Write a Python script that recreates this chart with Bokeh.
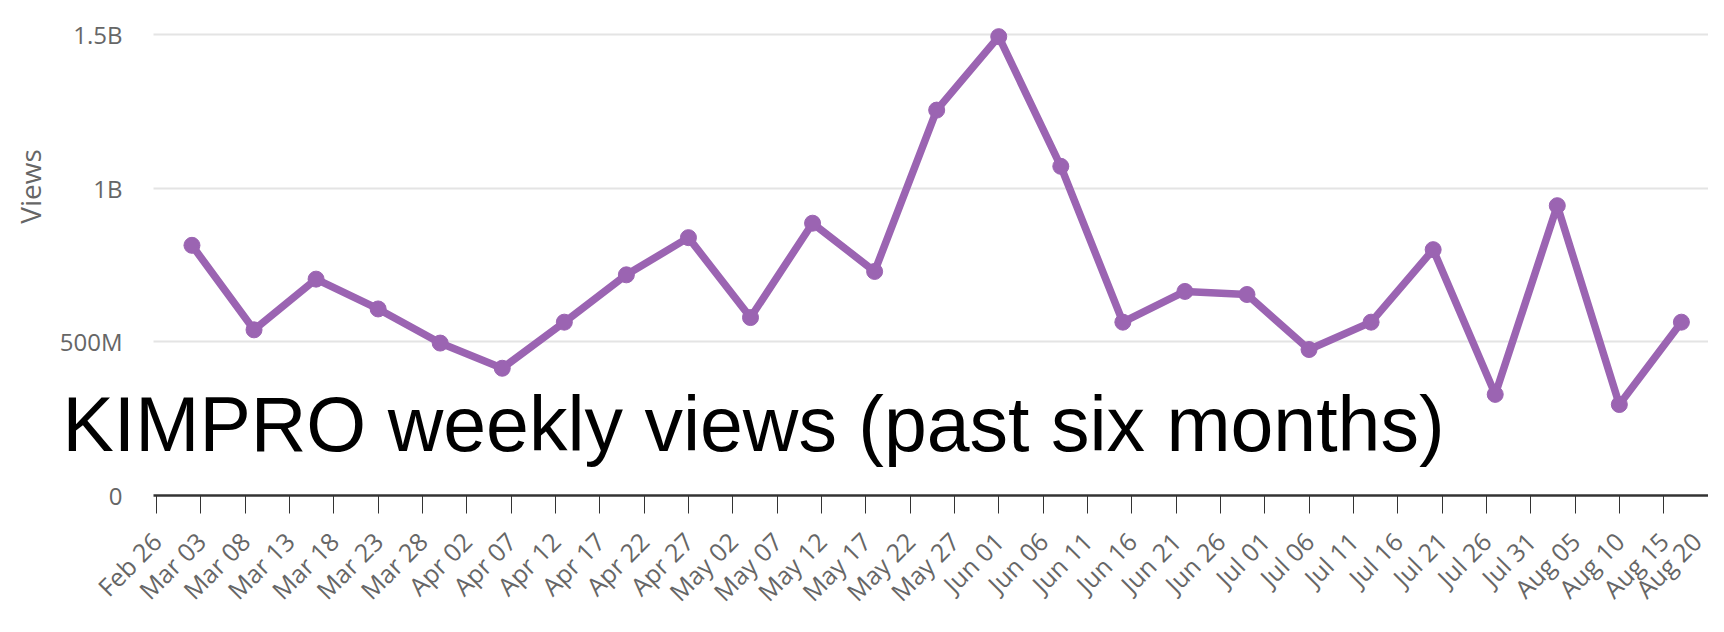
import math
from datetime import datetime, timedelta
from bokeh.plotting import figure
from bokeh.models import FixedTicker, DatetimeTickFormatter, Range1d, Label, ColumnDataSource, Grid
from bokeh.embed import file_html
from bokeh.resources import INLINE

# ---- data ----
start_week = "2023-03-02"
weekly_views = [814e6, 539e6, 704e6, 607e6, 496e6, 414e6, 564e6, 718e6, 839e6, 579e6,
                886e6, 729e6, 1254e6, 1493e6, 1071e6, 564e6, 664e6, 654e6, 475e6, 564e6,
                800e6, 329e6, 943e6, 296e6, 564e6]
y_ticks = [0, 500e6, 1000e6, 1500e6]
y_tick_labels = ["0", "500M", "1B", "1.5B"]
x_tick_first = "2023-02-26"
x_tick_count = 37
x_tick_step_days = 5
title_text = "KIMPRO weekly views (past six months)"
y_label = "Views"

EPOCH = datetime(1970, 1, 1)
DAY_MS = 86400000.0


def to_ms(d):
    return (d - EPOCH).total_seconds() * 1000.0


d0 = datetime.strptime(start_week, "%Y-%m-%d")
dates = [d0 + timedelta(days=7 * i) for i in range(len(weekly_views))]
src = ColumnDataSource(dict(x=dates, y=weekly_views))

t0 = datetime.strptime(x_tick_first, "%Y-%m-%d")
tick_ms = [to_ms(t0 + timedelta(days=x_tick_step_days * i)) for i in range(x_tick_count)]

# layout (pixels); the frame covers the whole canvas, axes are placed inside it
W, H = 1708, 616
zero_px = 495          # y pixel of value 0
top_tick_px = 34       # y pixel of 1.5B
first_tick_px = 156    # x pixel of Feb 26
last_tick_px = 1707.5  # x pixel of Aug 20
axis_px = 153          # x pixel of the y axis

px_per_day = (last_tick_px - first_tick_px) / 175.0
t0_ms = to_ms(t0)
x_start = t0_ms - first_tick_px / px_per_day * DAY_MS
x_end = t0_ms + (W - first_tick_px) / px_per_day * DAY_MS
axis_x = t0_ms - (first_tick_px - axis_px) / px_per_day * DAY_MS

units_per_px = 1.5e9 / (zero_px - top_tick_px)
y_start = -(H - zero_px) * units_per_px
y_end = zero_px * units_per_px

p = figure(width=W, height=H, x_axis_type="datetime", output_backend="svg",
           toolbar_location=None, x_range=Range1d(x_start, x_end),
           y_range=Range1d(y_start, y_end),
           min_border_left=0, min_border_right=0, min_border_top=0, min_border_bottom=0)
p.outline_line_color = None
p.background_fill_color = "white"

# horizontal grid lines, starting at the y axis position
grid_color = "#e4e4e4"
p.xgrid.grid_line_color = None
if "cross_bounds" in Grid.properties():
    p.ygrid.ticker = FixedTicker(ticks=y_ticks[1:])
    p.ygrid.grid_line_color = grid_color
    p.ygrid.grid_line_width = 2
    p.ygrid.cross_bounds = (axis_x, x_end)
else:
    p.ygrid.grid_line_color = None
    gy = y_ticks[1:]
    p.segment(x0=[axis_x] * len(gy), x1=[x_end] * len(gy), y0=gy, y1=gy,
              line_color=grid_color, line_width=2, level="underlay")

line_color = "#9b64b2"
p.line("x", "y", source=src, line_color=line_color, line_width=7.5)
p.scatter("x", "y", source=src, size=16, fill_color=line_color, line_color=line_color)

# y axis drawn at a fixed x location
yax = p.yaxis[0]
yax.fixed_location = axis_x
yax.ticker = FixedTicker(ticks=y_ticks)
yax.major_label_overrides = {t: l for t, l in zip(y_ticks, y_tick_labels)}
yax.axis_line_color = None
yax.major_tick_line_color = None
yax.major_tick_in = 0
yax.major_tick_out = 0
yax.minor_tick_line_color = None
yax.major_label_text_color = "#666666"
yax.major_label_text_font = "Open Sans"
yax.major_label_text_font_size = "24px"
yax.major_label_standoff = 31

# x axis drawn at y = 0
xax = p.xaxis[0]
xax.fixed_location = 0
xax.bounds = (axis_x, x_end)
xax.ticker = FixedTicker(ticks=tick_ms)
xax.formatter = DatetimeTickFormatter(days="%b %d", months="%b %d", hours="%b %d")
xax.major_label_orientation = math.pi / 4
xax.axis_line_color = "#333333"
xax.axis_line_width = 2.5
xax.major_tick_line_color = "#333333"
xax.major_tick_line_width = 1
xax.major_tick_in = 0
xax.major_tick_out = 18
xax.minor_tick_line_color = None
xax.major_label_text_color = "#666666"
xax.major_label_text_font = "Open Sans"
xax.major_label_text_font_size = "25px"
xax.major_label_standoff = 23

# y axis title
p.add_layout(Label(x=29, y=H - 186, x_units="screen", y_units="screen", text=y_label,
                   angle=math.pi / 2, text_align="center", text_baseline="middle",
                   text_font="Open Sans", text_font_size="28px", text_color="#666666"))

# overlaid chart title
p.add_layout(Label(x=62, y=H - 450 + 27, x_units="screen", y_units="screen",
                   text=title_text, text_baseline="alphabetic",
                   text_font="Liberation Sans", text_font_size="77px", text_color="black"))

open("out.html", "w").write(file_html(p, INLINE))
